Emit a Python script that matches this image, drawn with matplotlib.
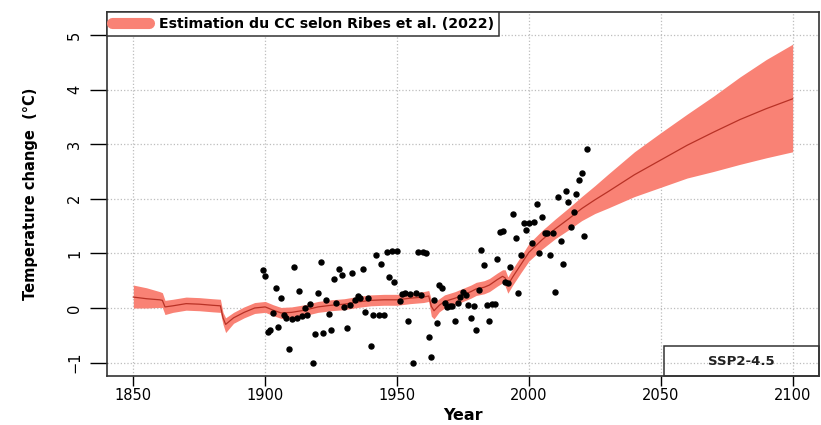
import matplotlib
matplotlib.use("Agg")
import matplotlib.pyplot as plt
from matplotlib.lines import Line2D
from matplotlib.patches import Rectangle

plt.rcParams['font.family'] = ['DejaVu Sans']

# constrained estimate (Ribes et al. 2022)
band_years = [1850, 1855, 1860, 1861, 1862, 1865, 1870, 1875, 1880, 1883,
              1884, 1885, 1888, 1892, 1896, 1900, 1903, 1906, 1910, 1915,
              1920, 1925, 1930, 1935, 1940, 1945, 1950, 1955, 1960, 1962,
              1963, 1964, 1966, 1968, 1972, 1975, 1978, 1980, 1983, 1985,
              1988, 1990, 1991, 1992, 1994, 1997, 2000, 2005, 2010, 2015,
              2020, 2025, 2030, 2040, 2050, 2060, 2070, 2080, 2090, 2100]
center = [0.20, 0.17, 0.15, 0.14, 0.02, 0.04, 0.08, 0.07, 0.05, 0.04,
          -0.18, -0.30, -0.18, -0.08, 0.00, 0.02, -0.04, -0.09, -0.08, -0.04,
          0.02, 0.05, 0.07, 0.11, 0.14, 0.15, 0.15, 0.18, 0.20, 0.22,
          0.03, -0.05, 0.05, 0.12, 0.18, 0.24, 0.30, 0.35, 0.38, 0.42,
          0.52, 0.58, 0.55, 0.42, 0.58, 0.80, 1.02, 1.25, 1.45, 1.63,
          1.82, 1.98, 2.13, 2.44, 2.71, 2.98, 3.22, 3.45, 3.65, 3.83]
upper = [0.42, 0.37, 0.30, 0.28, 0.14, 0.16, 0.20, 0.19, 0.17, 0.16,
         -0.08, -0.18, -0.08, 0.02, 0.10, 0.12, 0.06, 0.01, 0.02, 0.06,
         0.12, 0.15, 0.17, 0.21, 0.24, 0.25, 0.25, 0.28, 0.30, 0.32,
         0.15, 0.10, 0.17, 0.24, 0.30, 0.36, 0.42, 0.47, 0.50, 0.54,
         0.64, 0.70, 0.70, 0.57, 0.73, 0.95, 1.18, 1.42, 1.63, 1.83,
         2.04, 2.24, 2.45, 2.86, 3.21, 3.55, 3.88, 4.23, 4.55, 4.83]
lower = [0.00, 0.00, 0.01, 0.01, -0.12, -0.08, -0.04, -0.05, -0.07, -0.08,
         -0.30, -0.45, -0.28, -0.18, -0.10, -0.08, -0.14, -0.19, -0.18, -0.14,
         -0.08, -0.05, -0.03, 0.01, 0.04, 0.05, 0.05, 0.08, 0.10, 0.12,
         -0.15, -0.20, -0.07, 0.00, 0.06, 0.12, 0.18, 0.23, 0.26, 0.30,
         0.40, 0.46, 0.40, 0.27, 0.43, 0.65, 0.86, 1.08, 1.27, 1.43,
         1.60, 1.73, 1.83, 2.04, 2.21, 2.38, 2.50, 2.63, 2.75, 2.86]

# observed annual anomalies
obs_years = list(range(1899, 2023))
obs_values = [0.70, 0.58, -0.44, -0.40, -0.09, 0.37, -0.35, 0.18, -0.13, -0.18,
              -0.75, -0.20, 0.75, -0.18, 0.31, -0.15, 0.00, -0.13, 0.07, -1.00,
              -0.48, 0.27, 0.84, -0.46, 0.15, -0.11, -0.40, 0.53, 0.09, 0.71,
              0.60, 0.02, -0.37, 0.05, 0.64, 0.15, 0.22, 0.18, 0.71, -0.07,
              0.18, -0.70, -0.12, 0.97, -0.13, 0.80, -0.12, 1.03, 0.57, 1.04,
              0.48, 1.05, 0.13, 0.26, 0.27, -0.24, 0.26, -1.00, 0.28, 1.03,
              0.24, 1.02, 1.01, -0.53, -0.90, 0.15, -0.27, 0.42, 0.37, 0.10,
              0.02, 0.04, 0.04, -0.24, 0.10, 0.20, 0.30, 0.24, 0.05, -0.18,
              0.04, -0.40, 0.33, 1.06, 0.79, 0.06, -0.24, 0.07, 0.07, 0.90,
              1.39, 1.41, 0.47, 0.46, 0.75, 1.72, 1.28, 0.27, 0.97, 1.56,
              1.43, 1.56, 1.19, 1.58, 1.90, 1.00, 1.67, 1.37, 1.37, 0.97,
              1.37, 0.29, 2.03, 1.23, 0.80, 2.14, 1.94, 1.48, 1.76, 2.09,
              2.34, 2.47, 1.32, 2.91]

x_ticks = [1850, 1900, 1950, 2000, 2050, 2100]
y_ticks = [-1, 0, 1, 2, 3, 4, 5]
legend_label = "Estimation du CC selon Ribes et al. (2022)"
scenario = "SSP2-4.5"

band_color = '#F98275'
line_color = '#B83226'

fig = plt.figure(figsize=(8.21, 4.25), dpi=100)
ax = fig.add_axes([0.1303, 0.1153, 0.8673, 0.8565])

ax.fill_between(band_years, lower, upper, color=band_color, lw=0, zorder=2)
ax.plot(band_years, center, color=line_color, lw=0.9, zorder=3)
ax.plot(obs_years, obs_values, 'o', color='black', ms=3.6, zorder=4)

ax.set_xlim(1840, 2110)
ax.set_ylim(-1.245, 5.42)
ax.set_xticks(x_ticks)
ax.set_yticks(y_ticks)
ax.grid(True, color='#BDBDBD', ls=':', lw=0.9, zorder=0)

for s in ax.spines.values():
    s.set_linewidth(1.2)
    s.set_color('#333333')

ax.tick_params(axis='x', length=7, width=1, pad=2, labelsize=10.5)
ax.tick_params(axis='y', length=12, width=1, pad=6, labelsize=10.5, labelrotation=90)
plt.setp(ax.get_yticklabels(), va='center')

ax.set_xlabel('Year', fontsize=11.5, fontweight='bold', labelpad=3)
ax.set_ylabel('Temperature change  (°C)', fontsize=10.5, fontweight='bold', labelpad=21)

handle = Line2D([], [], color=band_color, lw=8, solid_capstyle='round')
leg = ax.legend([handle], [legend_label], loc='upper left', borderaxespad=0,
                fancybox=False, framealpha=1, edgecolor='#333333',
                handlelength=2.6, borderpad=0.35, handletextpad=0.7,
                prop={'size': 10.2, 'weight': 'bold'})
leg.get_frame().set_linewidth(1.1)

ax.add_patch(Rectangle((0.782, 0), 0.218, 0.082, transform=ax.transAxes,
                       fill=False, ec='#333333', lw=1.1, zorder=5, clip_on=False))
ax.text(0.891, 0.041, scenario, transform=ax.transAxes, ha='center', va='center',
        fontsize=9.5, fontweight='bold', color='#222222', zorder=6)

fig.savefig('out.png', dpi=100)
